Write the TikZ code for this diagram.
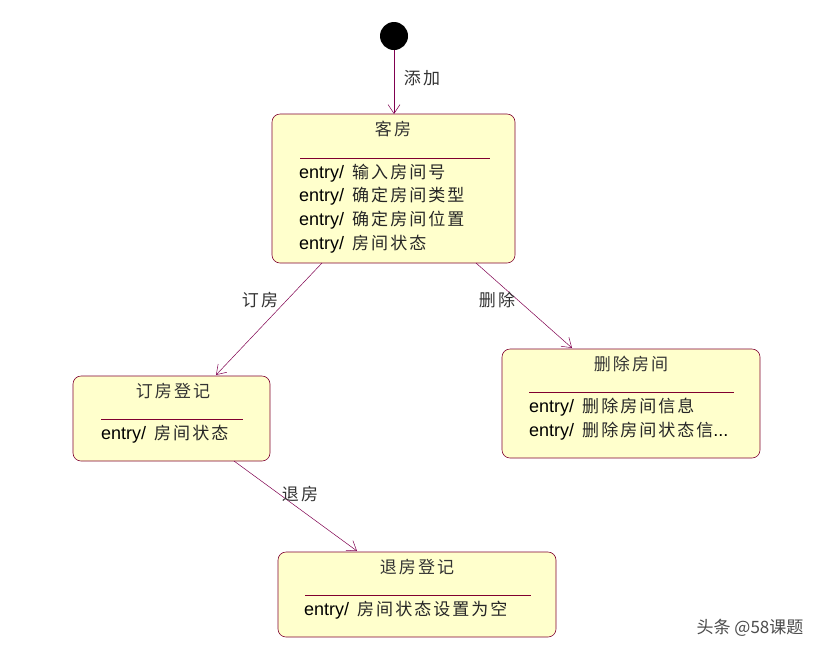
\documentclass[tikz,border=0pt]{standalone}
\usepackage{fontspec}
\setmainfont{Liberation Sans}
\newfontfamily\cjk{Noto Sans CJK SC}
\newfontfamily\cjks[LetterSpace=12]{Noto Sans CJK SC}
\usetikzlibrary{arrows.meta}
\definecolor{bd}{HTML}{800030}
\definecolor{ar}{HTML}{800050}
\definecolor{fl}{HTML}{FFFFCC}
\tikzset{
  st/.style={draw=bd,fill=fl,rounded corners=8pt,line width=0.6pt},
  tr/.style={draw=ar,line width=0.5pt,-{Straight Barb[length=9pt,width=12pt]}},
  ttl/.style={font=\cjks\fontsize{17}{19}\selectfont,text=black!80},
  ent/.style={font=\fontsize{18}{20}\selectfont,anchor=west,inner sep=0pt},
  lbl/.style={font=\cjks\fontsize{17}{19}\selectfont,text=black!80}
}
\newcommand{\en}[1]{entry/\hspace{8pt}{\cjks\fontsize{17}{19}\selectfont\color{black!85}#1}}
\begin{document}
\begin{tikzpicture}[x=1pt,y=-1pt]
\useasboundingbox (0,0) rectangle (834,657);
\fill[white] (0,0) rectangle (834,657);
\node[circle,fill=black,minimum size=28pt,inner sep=0pt] (init) at (394,36) {};
% states
\draw[st] (272,114) rectangle (515,263);
\node[ttl] (kf) at (393,129) {客房};
\draw[bd] (300,158) -- (490,158);
\node[ent] at (299,173) {\en{输入房间号}};
\node[ent] at (299,196) {\en{确定房间类型}};
\node[ent] at (299,220) {\en{确定房间位置}};
\node[ent] at (299,244) {\en{房间状态}};
\coordinate (kfTop) at (394,114);
\coordinate (kfL) at (322,263);
\coordinate (kfR) at (476,263);

\draw[st] (73,376) rectangle (270,461);
\node[ttl] at (173,391) {订房登记};
\draw[bd] (101,419) -- (243,419);
\node[ent] at (101,434) {\en{房间状态}};
\coordinate (dfTop) at (216,375);
\coordinate (dfB) at (234,461);

\draw[st] (502,349) rectangle (760,458);
\node[ttl] at (631,364) {删除房间};
\draw[bd] (529,392) -- (734,392);
\node[ent] at (529,407) {\en{删除房间信息}};
\node[ent] at (529,431) {\en{删除房间状态信}...};
\coordinate (scTop) at (572,348);

\draw[st] (278,552) rectangle (556,637);
\node[ttl] at (417,567) {退房登记};
\draw[bd] (305,595) -- (531,595);
\node[ent] at (304,610) {\en{房间状态设置为空}};
\coordinate (tfTop) at (357,551);

% transitions
\draw[tr] (init) -- (kfTop);
\node[lbl] at (422,78) {添加};
\draw[tr] (kfL) -- (dfTop);
\node[lbl] at (260,300) {订房};
\draw[tr] (kfR) -- (scTop);
\node[lbl] at (497,300) {删除};
\draw[tr] (dfB) -- (tfTop);
\node[lbl] at (300,494) {退房};

\node[font=\cjk\fontsize{17}{19}\selectfont,text=black!70] at (750,628) {头条 @58课题};
\end{tikzpicture}
\end{document}
